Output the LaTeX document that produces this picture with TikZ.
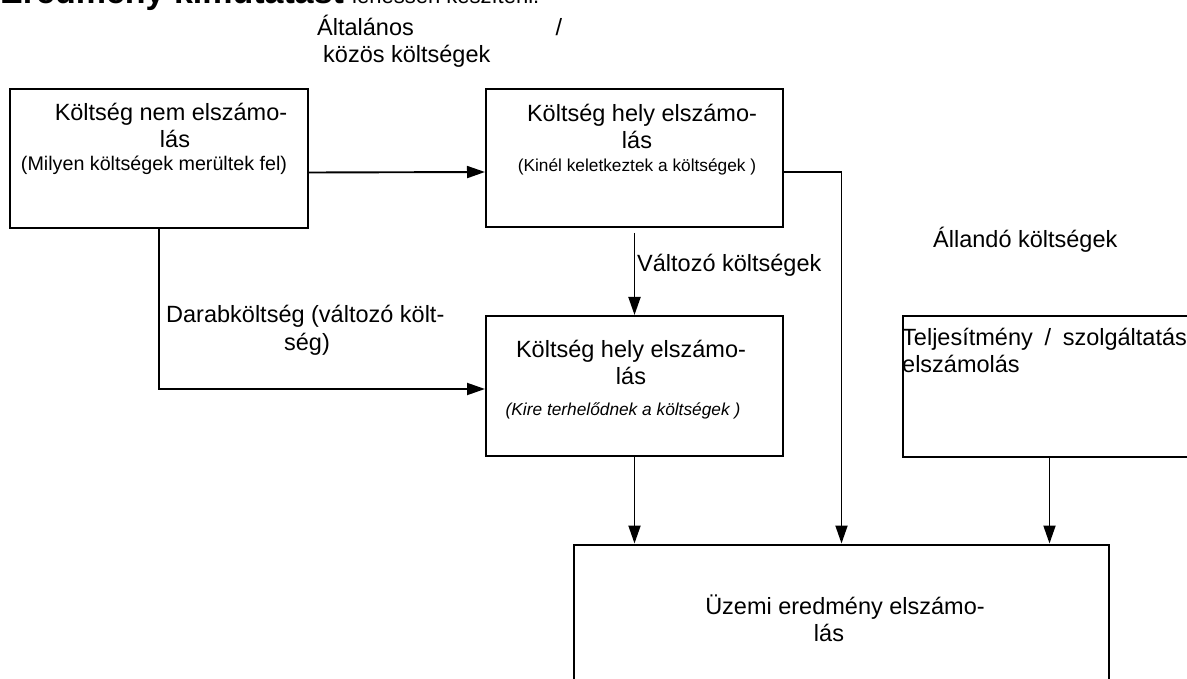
\documentclass[tikz,border=0pt]{standalone}
\usepackage{fontspec}
\setmainfont{Liberation Sans}
\usetikzlibrary{arrows.meta,positioning,calc}
\tikzset{
  kbox/.style={draw, line width=2pt, inner sep=0pt},
  flow/.style={->, line width=1.9pt},
  bigtext/.style={font=\fontsize{23.5}{27}\selectfont, inner sep=0pt, anchor=base},
  midtext/.style={font=\fontsize{19.7}{23}\selectfont, inner sep=0pt, anchor=base},
  notetext/.style={font=\fontsize{17.3}{20}\selectfont, inner sep=0pt, anchor=base},
}

\begin{document}
\begin{tikzpicture}[>={Triangle[length=18pt,width=12pt]}, x=1pt, y=-1pt]
    \path[use as bounding box, fill=white] (0,0) rectangle (1187,679);
    \clip (0,0) rectangle (1187,679);
    % heading, only its lower edge is on the page
    \node[anchor=base west, inner sep=0pt, font=\fontsize{34}{40}\selectfont\bfseries] (cim) at (0,4) {Eredmény kimutatást};
    \node[anchor=base west, inner sep=0pt, font=\fontsize{22}{26}\selectfont] (cimvege) at (352,4) {lehessen készíteni.};
    % boxes
    \node[kbox, minimum width=298pt, minimum height=139pt] (nemelsz) at (159,158.5) {};
    \node[kbox, minimum width=297pt, minimum height=138pt] (helyelsz) at (634.5,158) {};
    \node[kbox, minimum width=297pt, minimum height=140pt] (viseloelsz) at (634.5,386) {};
    \node[kbox, minimum width=294pt, minimum height=140pt] (teljelsz) at (1049.5,386.5) {};
    \node[kbox, minimum width=535pt, minimum height=160pt] (uzemelsz) at (841.5,624.5) {};
    % box texts
    \node[bigtext] (nemA) at (171,121) {Költség nem elszámo-};
    \node[bigtext] (nemB) at (175,148) {lás};
    \node[midtext] (nemC) at (154,171) {(Milyen költségek merültek fel)};
    \node[bigtext] (helyA) at (642,122) {Költség hely elszámo-};
    \node[bigtext] (helyB) at (637,149) {lás};
    \node[notetext] (helyC) at (637,172) {(Kinél keletkeztek a költségek )};
    \node[bigtext] (viseloA) at (631,357) {Költség hely elszámo-};
    \node[bigtext] (viseloB) at (631,384) {lás};
    \node[notetext, font=\fontsize{17.3}{20}\selectfont\itshape] (viseloC) at (623,415) {(Kire terhelődnek a költségek )};
    \node[bigtext, anchor=base west] (teljA) at (902,345) {Teljesítmény\hspace{0.5em}/\hspace{0.5em}szolgáltatás};
    \node[bigtext, anchor=base west] (teljB) at (902,372) {elszámolás};
    \node[bigtext] (uzemA) at (845,614) {Üzemi eredmény elszámo-};
    \node[bigtext] (uzemB) at (829,641) {lás};
    % free labels
    \node[bigtext, anchor=base west] (altA) at (317,36) {Általános};
    \node[bigtext] (altper) at (559,36) {/};
    \node[bigtext, anchor=base west] (altB) at (323,63) {közös költségek};
    \node[bigtext, anchor=base west] (allando) at (933,248) {Állandó költségek};
    \node[bigtext, anchor=base west] (valtozo) at (637,272) {Változó költségek};
    \node[bigtext, anchor=base west] (darabA) at (166,323) {Darabköltség (változó költ-};
    \node[bigtext] (darabB) at (307,350) {ség)};
    % connectors
    \draw[flow] ([yshift=-14pt]nemelsz.east) -- ([yshift=-14pt]helyelsz.west);
    \draw[flow] (nemelsz.south) |- ([yshift=-3pt]viseloelsz.west);
    \draw[flow, shorten <=5pt] (helyelsz.south) -- (viseloelsz.north);
    \draw[flow] ([yshift=-14pt]helyelsz.east) -| (uzemelsz.north);
    \foreach \src in {viseloelsz,teljelsz} {
      \draw[flow] (\src.south) -- (\src.south |- uzemelsz.north);
    }
\end{tikzpicture}
\end{document}
